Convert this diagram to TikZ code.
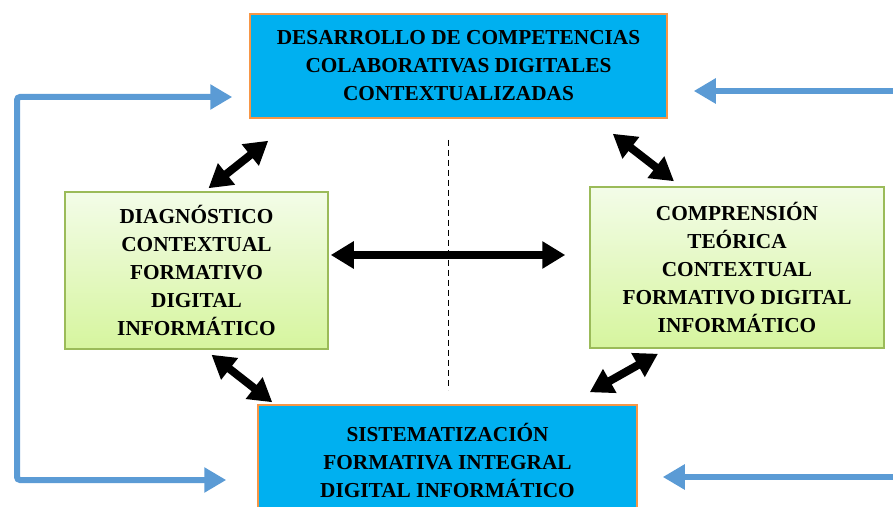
\documentclass[tikz,border=0pt]{standalone}
\usepackage{fontspec}
\setmainfont{Liberation Serif}
\usetikzlibrary{arrows.meta, calc}
\definecolor{cielo}{RGB}{0,176,240}
\definecolor{naranja}{RGB}{247,150,70}
\definecolor{verdeborde}{RGB}{155,187,89}
\definecolor{verdeclaro}{RGB}{243,252,232}
\definecolor{verdeoscuro}{RGB}{214,245,158}
\definecolor{azul}{RGB}{91,155,213}
\tikzstyle{bluebox} = [draw=naranja, line width=1.5pt, fill=cielo, align=center, inner sep=0pt, font=\fontsize{21.3}{28}\selectfont\bfseries]
\tikzstyle{greenbox} = [draw=verdeborde, line width=1.5pt, top color=verdeclaro, bottom color=verdeoscuro, align=center, inner sep=0pt, font=\fontsize{21.3}{28}\selectfont\bfseries]
\tikzstyle{dblarrow} = [line width=8pt, {Triangle[length=23pt,width=26pt]}-{Triangle[length=23pt,width=26pt]}]
\tikzstyle{bluearrow} = [azul, line width=6pt, -{Triangle[length=22pt,width=24pt]}]

\begin{document}
\begin{tikzpicture}[x=1pt,y=1pt]
	\useasboundingbox (0,0) rectangle (893,506);
	\clip (0,0) rectangle (893,506);
	% cajas
	\node[bluebox, minimum width=417pt, minimum height=104pt] (desarrollo) at (458.5,440) {DESARROLLO DE COMPETENCIAS\\COLABORATIVAS DIGITALES\\CONTEXTUALIZADAS};
	\node[greenbox, minimum width=263pt, minimum height=157pt] (diagnostico) at (196.5,235.5) {DIAGNÓSTICO\\CONTEXTUAL\\FORMATIVO\\DIGITAL\\INFORMÁTICO};
	\node[greenbox, minimum width=294pt, minimum height=161pt] (comprension) at (737,238.5) {COMPRENSIÓN\\TEÓRICA\\CONTEXTUAL\\FORMATIVO DIGITAL\\INFORMÁTICO};
	\node[bluebox, minimum width=379pt, minimum height=110pt] (sistematizacion) at (447.5,46) {SISTEMATIZACIÓN\\FORMATIVA INTEGRAL\\DIGITAL INFORMÁTICO};
	% linea central
	\draw[dashed, line width=0.8pt, dash pattern=on 6pt off 4pt] (448,366) -- (448,116);
	% flechas negras
	\draw[dblarrow] ($(diagnostico.east)+(2,15.5)$) -- ($(comprension.west)+(-24,12.5)$);
	\draw[dblarrow] ($(diagnostico.north)+(12,3)$) -- ($(desarrollo.south west)+(19,-22)$);
	\draw[dblarrow] ($(desarrollo.south east)+(-55,-15)$) -- ($(comprension.north)+(-63,5)$);
	\draw[dblarrow] ($(diagnostico.south)+(15,-5)$) -- ($(sistematizacion.north west)+(15,2)$);
	\draw[dblarrow] ($(sistematizacion.north east)+(-48,12)$) -- ($(comprension.south)+(-79,-5)$);
	% flechas azules
	\coordinate (izq) at (17,409);
	\coordinate (derA) at (900,415);
	\coordinate (derB) at (900,29);
	\draw[bluearrow, {Triangle[length=22pt,width=24pt]}-{Triangle[length=22pt,width=24pt]}, rounded corners=3pt] ($(sistematizacion.west)+(-31,-20)$) -| (izq) -- ($(desarrollo.west)+(-17,-31)$);
	\draw[bluearrow] (derA) -- ($(desarrollo.east)+(26,-25)$);
	\draw[bluearrow] (derB) -- ($(sistematizacion.east)+(25,-17)$);
\end{tikzpicture}
\end{document}
